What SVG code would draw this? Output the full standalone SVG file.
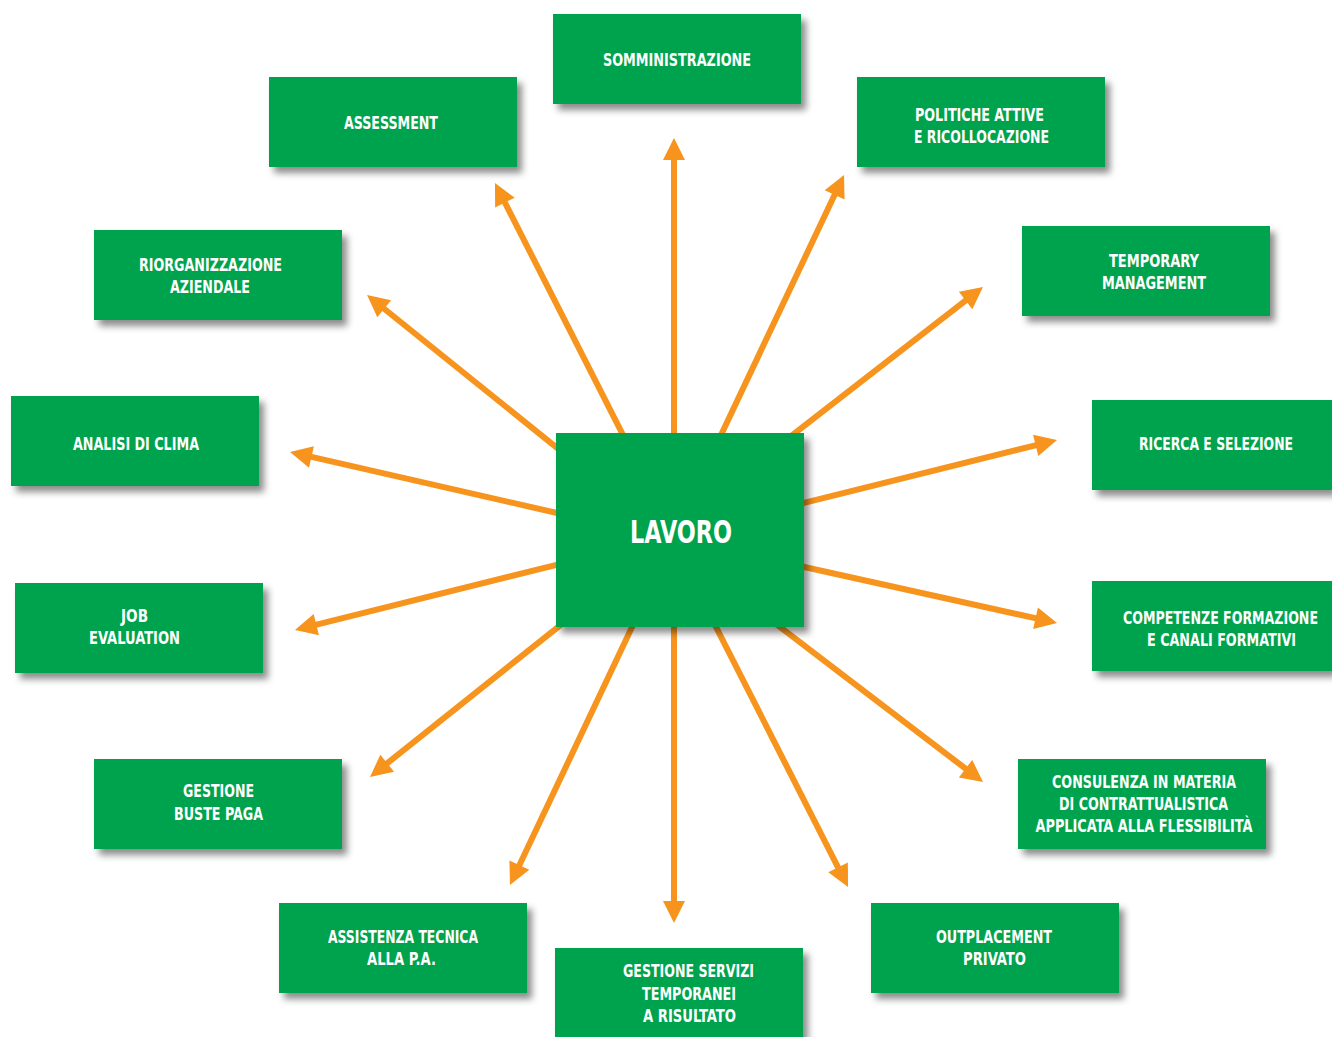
<svg xmlns="http://www.w3.org/2000/svg" width="1332" height="1037" viewBox="0 0 1332 1037">
<defs>
<filter id="sh" x="-10%" y="-10%" width="130%" height="140%">
<feDropShadow dx="5" dy="6" stdDeviation="3.5" flood-color="#000" flood-opacity="0.45"/>
</filter>
<marker id="ah" markerUnits="userSpaceOnUse" markerWidth="26" markerHeight="26" refX="10" refY="0" viewBox="-2 -13 26 26" orient="auto">
<path d="M0,-11 L22,0 L0,11 z" fill="#f7941d"/>
</marker>
</defs>
<style>
.box{fill:#00a34e;filter:url(#sh)}
.t{font-family:"Liberation Sans Narrow","DejaVu Sans Condensed","Liberation Sans",sans-serif;font-stretch:condensed;font-weight:bold;font-size:18px;fill:#fff;text-anchor:middle}
.big{font-size:32px}
.c line{stroke:#f7941d;stroke-width:6;marker-end:url(#ah)}
</style>
<rect width="1332" height="1037" fill="#fff"/>
<g id="connectors" class="c">
<line x1="674" y1="530" x2="674" y2="150"/>
<line x1="674" y1="530" x2="674" y2="911"/>
<line x1="626.5" y1="441.9" x2="500.4" y2="193.7"/>
<line x1="717.7" y1="442" x2="838.9" y2="185.8"/>
<line x1="563.8" y1="453.3" x2="376.4" y2="302.5"/>
<line x1="787.1" y1="439.1" x2="973.5" y2="294.4"/>
<line x1="566" y1="515" x2="301.7" y2="454.7"/>
<line x1="794" y1="505.4" x2="1045.4" y2="442.9"/>
<line x1="565.7" y1="562.6" x2="306.6" y2="627.1"/>
<line x1="794.2" y1="564.8" x2="1045.3" y2="620.4"/>
<line x1="565.8" y1="620.8" x2="379.4" y2="769.5"/>
<line x1="772" y1="620.9" x2="973.5" y2="774.7"/>
<line x1="636.3" y1="618" x2="515.1" y2="874.2"/>
<line x1="711.5" y1="618.1" x2="842.6" y2="876.3"/>
</g>
<g id="lavoro"><rect class="box" x="556" y="433" width="248" height="194"/><text class="t big" x="681" y="543" textLength="102" lengthAdjust="spacingAndGlyphs">LAVORO</text></g>
<g id="somministrazione"><rect class="box" x="553" y="14" width="248" height="90"/><text class="t" x="677" y="66" textLength="148" lengthAdjust="spacingAndGlyphs">SOMMINISTRAZIONE</text></g>
<g id="assessment"><rect class="box" x="269" y="77" width="248" height="90"/><text class="t" x="391" y="129" textLength="94" lengthAdjust="spacingAndGlyphs">ASSESSMENT</text></g>
<g id="politiche"><rect class="box" x="857" y="77" width="248" height="90"/><text class="t" x="979.5" y="121" textLength="129" lengthAdjust="spacingAndGlyphs">POLITICHE ATTIVE</text><text class="t" x="981.5" y="143" textLength="135" lengthAdjust="spacingAndGlyphs">E RICOLLOCAZIONE</text></g>
<g id="riorganizzazione"><rect class="box" x="94" y="230" width="248" height="90"/><text class="t" x="210.5" y="271" textLength="143" lengthAdjust="spacingAndGlyphs">RIORGANIZZAZIONE</text><text class="t" x="210" y="293" textLength="80" lengthAdjust="spacingAndGlyphs">AZIENDALE</text></g>
<g id="temporary"><rect class="box" x="1022" y="226" width="248" height="90"/><text class="t" x="1154" y="267" textLength="90" lengthAdjust="spacingAndGlyphs">TEMPORARY</text><text class="t" x="1154" y="289" textLength="104" lengthAdjust="spacingAndGlyphs">MANAGEMENT</text></g>
<g id="analisi"><rect class="box" x="11" y="396" width="248" height="90"/><text class="t" x="136" y="450" textLength="126" lengthAdjust="spacingAndGlyphs">ANALISI DI CLIMA</text></g>
<g id="ricerca"><rect class="box" x="1092" y="400" width="240" height="90"/><text class="t" x="1216" y="450" textLength="154" lengthAdjust="spacingAndGlyphs">RICERCA E SELEZIONE</text></g>
<g id="job"><rect class="box" x="15" y="583" width="248" height="90"/><text class="t" x="134.5" y="622" textLength="27" lengthAdjust="spacingAndGlyphs">JOB</text><text class="t" x="134.5" y="644" textLength="91" lengthAdjust="spacingAndGlyphs">EVALUATION</text></g>
<g id="competenze"><rect class="box" x="1092" y="581" width="240" height="90"/><text class="t" x="1220.5" y="624" textLength="195" lengthAdjust="spacingAndGlyphs">COMPETENZE FORMAZIONE</text><text class="t" x="1221.5" y="646" textLength="149" lengthAdjust="spacingAndGlyphs">E CANALI FORMATIVI</text></g>
<g id="buste"><rect class="box" x="94" y="759" width="248" height="90"/><text class="t" x="218.5" y="797" textLength="71" lengthAdjust="spacingAndGlyphs">GESTIONE</text><text class="t" x="218.5" y="820" textLength="89" lengthAdjust="spacingAndGlyphs">BUSTE PAGA</text></g>
<g id="consulenza"><rect class="box" x="1018" y="759" width="248" height="90"/><text class="t" x="1144" y="788" textLength="184" lengthAdjust="spacingAndGlyphs">CONSULENZA IN MATERIA</text><text class="t" x="1143.5" y="810" textLength="169" lengthAdjust="spacingAndGlyphs">DI CONTRATTUALISTICA</text><text class="t" x="1144" y="832" textLength="217" lengthAdjust="spacingAndGlyphs">APPLICATA ALLA FLESSIBILITÀ</text></g>
<g id="assistenza"><rect class="box" x="279" y="903" width="248" height="90"/><text class="t" x="403" y="943" textLength="150" lengthAdjust="spacingAndGlyphs">ASSISTENZA TECNICA</text><text class="t" x="401.5" y="965" textLength="69" lengthAdjust="spacingAndGlyphs">ALLA P.A.</text></g>
<g id="servizi"><rect class="box" x="555" y="948" width="248" height="95"/><text class="t" x="688.5" y="977" textLength="131" lengthAdjust="spacingAndGlyphs">GESTIONE SERVIZI</text><text class="t" x="689" y="1000" textLength="94" lengthAdjust="spacingAndGlyphs">TEMPORANEI</text><text class="t" x="689.5" y="1022" textLength="93" lengthAdjust="spacingAndGlyphs">A RISULTATO</text></g>
<g id="outplacement"><rect class="box" x="871" y="903" width="248" height="90"/><text class="t" x="994" y="943" textLength="116" lengthAdjust="spacingAndGlyphs">OUTPLACEMENT</text><text class="t" x="994.5" y="965" textLength="63" lengthAdjust="spacingAndGlyphs">PRIVATO</text></g>
</svg>
